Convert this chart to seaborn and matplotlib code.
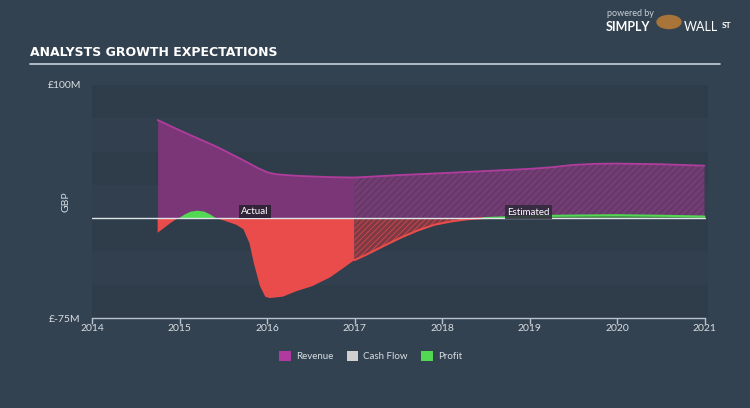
import numpy as np
import pandas as pd
import matplotlib
matplotlib.use("Agg")
import matplotlib.pyplot as plt
from matplotlib.patches import Patch, Circle
import seaborn as sns

# ---- data (GBP millions) ----
rev_years = [2014.75, 2015.0, 2015.42, 2015.7, 2015.9, 2016.0, 2016.1, 2016.33, 2016.72, 2017.0]
rev_vals = [73.7, 66.0, 53.8, 44.5, 37.5, 34.5, 33.0, 31.8, 30.8, 30.5]
rev_est_years = [2017.0, 2017.5, 2018.0, 2018.5, 2019.0, 2019.25, 2019.5, 2019.75, 2020.0, 2020.5, 2021.0]
rev_est_vals = [30.5, 32.3, 33.8, 35.4, 37.0, 38.2, 40.0, 40.8, 41.0, 40.5, 39.4]

profit_years = [2014.75, 2014.82, 2014.9, 2014.98, 2015.05, 2015.12, 2015.2, 2015.28, 2015.35, 2015.42,
                2015.54, 2015.65, 2015.73, 2015.8, 2015.85, 2015.92, 2015.98, 2016.03, 2016.18,
                2016.33, 2016.52, 2016.72, 2016.87, 2017.0]
profit_vals = [-11.0, -7.5, -3.5, 0.0, 3.0, 5.2, 6.0, 5.2, 3.0, 0.0,
               -2.5, -5.0, -8.3, -18.8, -34.0, -51.0, -59.0, -60.0, -59.0,
               -55.0, -51.0, -44.5, -37.6, -31.5]
profit_est_years = [2017.0, 2017.13, 2017.33, 2017.53, 2017.72, 2017.91, 2018.1, 2018.29, 2018.47,
                    2018.8, 2019.2, 2019.6, 2020.0, 2020.5, 2021.0]
profit_est_vals = [-31.5, -27.6, -21.0, -14.6, -9.3, -5.0, -2.5, -0.8, 0.0,
                   0.8, 1.7, 2.0, 2.2, 1.8, 1.2]

x_ticks = [2014, 2015, 2016, 2017, 2018, 2019, 2020, 2021]
y_ticks = [100, -75]
y_tick_labels = ["£100M", "£-75M"]

# ---- colours ----
BG = "#334250"
PLOT_BG = "#313f4e"
BAND = "#2f3d4b"
REV_FILL = "#7b3677"
REV_LINE = "#b03d9c"
REV_EST_FILL = "#713d73"
REV_HATCH = "#5a3160"
PROFIT_NEG = "#ea4c4c"
PROFIT_POS = "#52d852"
TEXT = "#d8dde2"

sns.set_theme(style="dark")
plt.rcParams["font.family"] = ["Lato", "DejaVu Sans"]
plt.rcParams["hatch.linewidth"] = 0.6

fig = plt.figure(figsize=(7.5, 4.08), dpi=100, facecolor=BG)
ax = fig.add_axes([92 / 750, 1 - 318 / 408, 616 / 750, 233 / 408])
ax.set_facecolor(PLOT_BG)
ax.set_xlim(2014, 2021.04)
ax.set_ylim(-75, 100)

# subtle horizontal bands
for lo in range(-75, 100, 50):
    ax.axhspan(lo, lo + 25, color=BAND, zorder=0, lw=0)

rev_df = pd.DataFrame({"year": rev_years, "value": rev_vals})
rev_est_df = pd.DataFrame({"year": rev_est_years, "value": rev_est_vals})

# Revenue actual
ax.fill_between(rev_df["year"], 0, rev_df["value"], color=REV_FILL, lw=0, zorder=2)
sns.lineplot(data=rev_df, x="year", y="value", ax=ax, color=REV_LINE, lw=1.3, zorder=4)
# Revenue estimated (hatched)
ax.fill_between(rev_est_df["year"], 0, rev_est_df["value"], facecolor=REV_EST_FILL,
                edgecolor=REV_HATCH, hatch="/////", lw=0, zorder=2)
sns.lineplot(data=rev_est_df, x="year", y="value", ax=ax, color=REV_LINE, lw=1.3, zorder=4)

# Profit actual
py = np.array(profit_years)
pv = np.array(profit_vals)
ax.fill_between(py, 0, pv, where=pv <= 0, interpolate=True, color=PROFIT_NEG, lw=0, zorder=3)
ax.fill_between(py, 0, pv, where=pv >= 0, interpolate=True, color=PROFIT_POS, lw=0, zorder=3)
# Profit estimated
pey = np.array(profit_est_years)
pev = np.array(profit_est_vals)
ax.fill_between(pey, 0, pev, where=pev <= 0, interpolate=True, facecolor="#7e3a44",
                edgecolor="#d2474c", hatch="//////", lw=0, zorder=3)
ax.fill_between(pey, 0, pev, where=pev >= 0, interpolate=True, color="#3f7a45", lw=0, zorder=3)
neg_mask = pev <= 0.05
sns.lineplot(x=pey[neg_mask], y=pev[neg_mask], ax=ax, color=PROFIT_NEG, lw=1.5, zorder=4)
pos_mask = pev >= 0
sns.lineplot(x=pey[pos_mask], y=pev[pos_mask], ax=ax, color=PROFIT_POS, lw=1.5, zorder=4)

# zero line
ax.axhline(0, xmax=(2021 - 2014) / 7.04, color="#dfe4e8", lw=1.0, zorder=5)

# Actual / Estimated labels
ax.text(2015.86, 5, "Actual", color="white", fontsize=7, ha="center", va="center", zorder=6,
        bbox=dict(boxstyle="square,pad=0.25", fc="#2a2133", ec="none", alpha=0.9))
ax.text(2018.99, 4.5, "Estimated", color="white", fontsize=7, ha="center", va="center", zorder=6,
        bbox=dict(boxstyle="square,pad=0.25", fc="#2e2a3a", ec="none", alpha=0.85))

# axes styling
for s in ["top", "right", "left"]:
    ax.spines[s].set_visible(False)
ax.spines["bottom"].set_color("#b8c2cc")
ax.spines["bottom"].set_linewidth(1)
ax.spines["bottom"].set_bounds(2014, 2021)
ax.set_xticks(x_ticks)
ax.set_xticklabels([str(t) for t in x_ticks])
ax.tick_params(axis="x", colors="#b8c2cc", labelcolor=TEXT, labelsize=7.5, length=4,
               width=1, direction="out", pad=0.5, bottom=True)
ax.set_yticks(y_ticks)
ax.set_yticklabels(y_tick_labels)
ax.tick_params(axis="y", left=False, labelcolor=TEXT, labelsize=7.5, pad=2)
ax.set_xlabel("")
ax.set_ylabel("GBP", color=TEXT, fontsize=7.5)
ax.yaxis.set_label_coords(-0.035, 0.5)
ax.grid(False)

# title + underline
fig.text(30 / 750, 1 - 53 / 408, "ANALYSTS GROWTH EXPECTATIONS", color="white", fontsize=9,
         fontweight="bold", family=["DejaVu Sans"], va="center", ha="left")
fig.add_artist(plt.Line2D([30 / 750, 720 / 750], [1 - 64 / 408, 1 - 64 / 408],
                          color="#c8d2dc", lw=1.2, transform=fig.transFigure))

# logo
fig.text(607 / 750, 1 - 14 / 408, "powered by", color="#c8d0d8", fontsize=6.5, va="center", ha="left")
fig.text(606 / 750, 1 - 27 / 408, "SIMPLY", color="white", fontsize=9, fontweight="bold",
         va="center", ha="left")
fig.add_artist(Circle((669 / 750, 1 - 22 / 408), 0.016, transform=fig.transFigure,
                      color="#a8743a", zorder=5))
fig.text(684 / 750, 1 - 27 / 408, "WALL", color="white", fontsize=9, va="center", ha="left")
fig.text(722 / 750, 1 - 25 / 408, "ST", color="white", fontsize=6, fontweight="bold",
         va="center", ha="left")

# legend
handles = [Patch(facecolor="#b03aa0", edgecolor="none", label="Revenue"),
           Patch(facecolor="#d0d0d0", edgecolor="none", label="Cash Flow"),
           Patch(facecolor=PROFIT_POS, edgecolor="none", label="Profit")]
leg = fig.legend(handles=handles, loc="center", bbox_to_anchor=(0.494, 1 - 356 / 408), ncol=3,
                 frameon=False, fontsize=7, labelcolor=TEXT, handlelength=1.2, handleheight=1.2,
                 columnspacing=1.4, handletextpad=0.5)

fig.savefig("out.png", dpi=100, facecolor=BG)
